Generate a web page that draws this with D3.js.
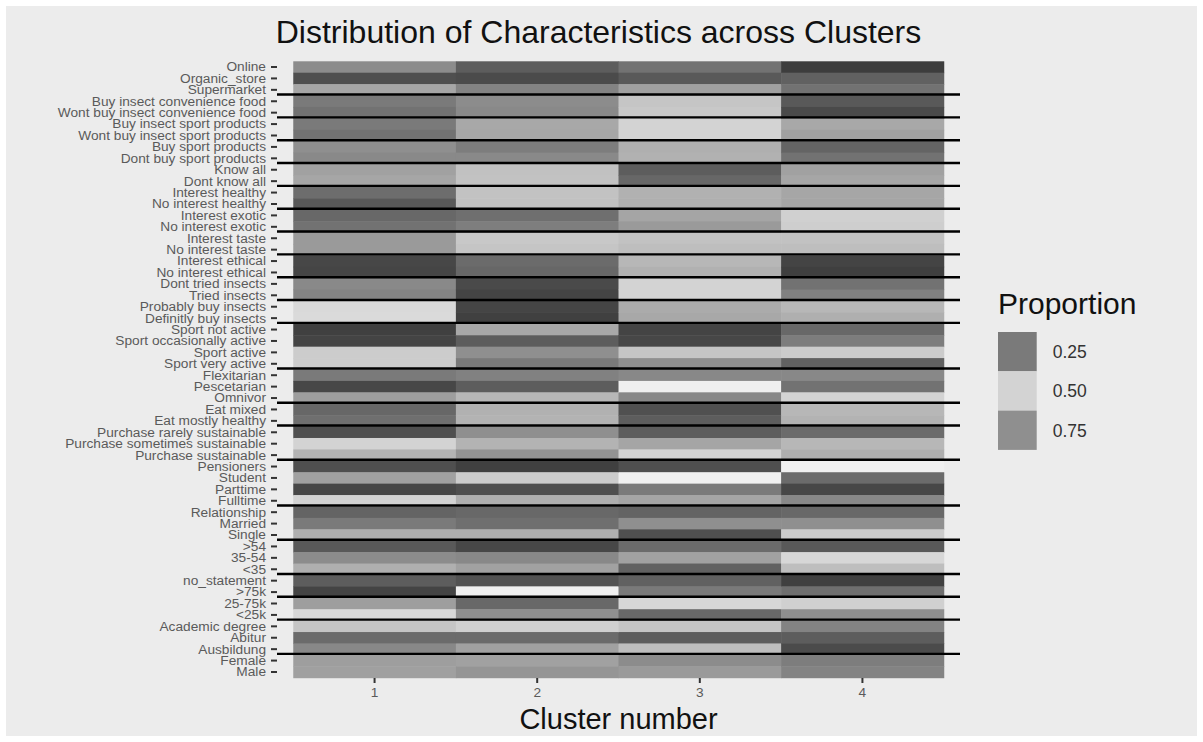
<!DOCTYPE html>
<html>
<head>
<meta charset="utf-8">
<script src="https://cdn.jsdelivr.net/npm/d3@7"></script>
<style>
  html, body { margin: 0; padding: 0; background: #ffffff; }
  svg { display: block; font-family: "Liberation Sans", Arial, sans-serif; }
</style>
</head>
<body>
<svg id="chart" width="1203" height="742"></svg>
<script>
// Characteristics, top to bottom
const characteristics = [
  "Online", "Organic_store", "Supermarket",
  "Buy insect convenience food", "Wont buy insect convenience food",
  "Buy insect sport products", "Wont buy insect sport products",
  "Buy sport products", "Dont buy sport products",
  "Know all", "Dont know all",
  "Interest healthy", "No interest healthy",
  "Interest exotic", "No interest exotic",
  "Interest taste", "No interest taste",
  "Interest ethical", "No interest ethical",
  "Dont tried insects", "Tried insects",
  "Probably buy insects", "Definitly buy insects",
  "Sport not active", "Sport occasionally active", "Sport active", "Sport very active",
  "Flexitarian", "Pescetarian", "Omnivor",
  "Eat mixed", "Eat mostly healthy",
  "Purchase rarely sustainable", "Purchase sometimes sustainable", "Purchase sustainable",
  "Pensioners", "Student", "Parttime", "Fulltime",
  "Relationship", "Married", "Single",
  ">54", "35-54", "<35",
  "no_statement", ">75k", "25-75k", "<25k",
  "Academic degree", "Abitur", "Ausbildung",
  "Female", "Male"
];

const clusters = ["1", "2", "3", "4"];

// Proportion of each characteristic per cluster (same order as characteristics)
const cluster1 = [0.30,0.13,0.71,0.25,0.80,0.25,0.80,0.31,0.76,0.36,0.71,0.81,0.16,0.20,0.80,0.73,0.34,0.11,0.88,0.76,0.28,0.62,0.52,0.09,0.10,0.48,0.48,0.25,0.11,0.35,0.82,0.22,0.13,0.50,0.41,0.13,0.36,0.11,0.50,0.19,0.25,0.40,0.16,0.30,0.40,0.17,0.10,0.35,0.51,0.46,0.21,0.29,0.35,0.72];
const cluster2 = [0.17,0.12,0.77,0.30,0.76,0.38,0.71,0.26,0.76,0.45,0.66,0.66,0.45,0.22,0.78,0.65,0.46,0.21,0.82,0.87,0.10,0.88,0.09,0.38,0.17,0.31,0.25,0.27,0.17,0.42,0.69,0.41,0.31,0.41,0.32,0.09,0.48,0.13,0.40,0.20,0.22,0.40,0.11,0.29,0.36,0.14,0.58,0.20,0.31,0.49,0.21,0.36,0.36,0.74];
const cluster3 = [0.23,0.16,0.72,0.46,0.65,0.50,0.63,0.40,0.69,0.17,0.82,0.69,0.40,0.37,0.73,0.66,0.44,0.42,0.69,0.63,0.50,0.70,0.38,0.10,0.11,0.46,0.31,0.29,0.58,0.29,0.86,0.17,0.17,0.37,0.50,0.13,0.58,0.25,0.37,0.19,0.31,0.13,0.21,0.36,0.18,0.18,0.25,0.51,0.20,0.46,0.17,0.44,0.30,0.73];
const cluster4 = [0.08,0.18,0.80,0.16,0.87,0.38,0.72,0.19,0.80,0.36,0.71,0.71,0.37,0.49,0.64,0.66,0.44,0.10,0.89,0.80,0.27,0.68,0.40,0.20,0.26,0.48,0.18,0.29,0.23,0.50,0.68,0.41,0.21,0.42,0.40,0.58,0.21,0.11,0.29,0.20,0.31,0.48,0.16,0.51,0.44,0.09,0.22,0.49,0.31,0.77,0.17,0.12,0.26,0.77];

// Separator lines are drawn below these characteristics
const separatorsAfter = [
  "Supermarket", "Wont buy insect convenience food", "Wont buy insect sport products",
  "Dont buy sport products", "Dont know all", "No interest healthy", "No interest exotic",
  "No interest taste", "No interest ethical", "Tried insects", "Definitly buy insects",
  "Sport very active", "Omnivor", "Eat mostly healthy", "Purchase sustainable",
  "Fulltime", "Single", "<35", ">75k", "<25k", "Ausbildung"
];

const legendBreaks = [0.25, 0.50, 0.75];

const seriesByCluster = [cluster1, cluster2, cluster3, cluster4];
const cells = [];
clusters.forEach((c, ci) => {
  characteristics.forEach((ch, ri) => {
    cells.push({ cluster: c, characteristic: ch, value: seriesByCluster[ci][ri] });
  });
});

const W = 1203, H = 742;
const svg = d3.select("#chart");

// plot background
svg.append("rect")
  .attr("x", 6).attr("y", 6)
  .attr("width", W - 12).attr("height", H - 12)
  .attr("fill", "#ececec");

const panel = { left: 277, right: 960, top: 61, bottom: 678 };

// discrete x with ggplot-like expansion (0.6 units on each side)
const x = d3.scaleBand()
  .domain(clusters)
  .range([panel.left + (panel.right - panel.left) * 0.1 / 4.2,
          panel.right - (panel.right - panel.left) * 0.1 / 4.2])
  .padding(0);

const y = d3.scaleBand()
  .domain(characteristics)
  .range([61.3, 677.7])
  .padding(0);

const color = d3.scaleLinear()
  .domain([0, 0.58, 1])
  .range(["#202020", "#f0f0f0", "#000000"])
  .clamp(true);

// tiles
svg.append("g")
  .selectAll("rect")
  .data(cells)
  .join("rect")
  .attr("x", d => x(d.cluster))
  .attr("y", d => y(d.characteristic))
  .attr("width", x.bandwidth() + 0.5)
  .attr("height", y.bandwidth() + 0.5)
  .attr("fill", d => color(d.value));

// group separators across the full panel width
svg.append("g")
  .selectAll("line")
  .data(separatorsAfter)
  .join("line")
  .attr("x1", panel.left)
  .attr("x2", panel.right)
  .attr("y1", d => y(d) + y.bandwidth() - 1)
  .attr("y2", d => y(d) + y.bandwidth() - 1)
  .attr("stroke", "#000")
  .attr("stroke-width", 2.4);

// y axis
const yAxis = svg.append("g")
  .attr("transform", `translate(${panel.left},0)`)
  .call(d3.axisLeft(y).tickSize(6).tickPadding(5));
yAxis.select(".domain").remove();
yAxis.selectAll(".tick line").attr("stroke", "#333").attr("stroke-width", 2);
yAxis.selectAll(".tick text")
  .attr("fill", "#5a5a5a")
  .style("font-size", "13.7px")
  .style("font-family", "'Liberation Sans', Arial, sans-serif");

// x axis
const xAxis = svg.append("g")
  .attr("transform", `translate(0,${panel.bottom})`)
  .call(d3.axisBottom(x).tickSize(5).tickPadding(4));
xAxis.select(".domain").remove();
xAxis.selectAll(".tick line").attr("stroke", "#333").attr("stroke-width", 2);
xAxis.selectAll(".tick text")
  .attr("fill", "#5a5a5a")
  .style("font-size", "13.7px")
  .style("font-family", "'Liberation Sans', Arial, sans-serif");

// titles
svg.append("text")
  .attr("x", 598.5).attr("y", 43)
  .attr("text-anchor", "middle")
  .attr("fill", "#111")
  .style("font-size", "32px")
  .text("Distribution of Characteristics across Clusters");

svg.append("text")
  .attr("x", (panel.left + panel.right) / 2).attr("y", 729)
  .attr("text-anchor", "middle")
  .attr("fill", "#111")
  .style("font-size", "29px")
  .text("Cluster number");

// legend
const legend = svg.append("g").attr("transform", "translate(998,0)");
legend.append("text")
  .attr("x", 0).attr("y", 314)
  .attr("fill", "#111")
  .style("font-size", "30px")
  .text("Proportion");

const keyH = 39.3, keyW = 38.7, keyTop = 332;
legend.selectAll("rect.key")
  .data(legendBreaks)
  .join("rect")
  .attr("class", "key")
  .attr("x", 0)
  .attr("y", (d, i) => keyTop + i * keyH)
  .attr("width", keyW)
  .attr("height", keyH)
  .attr("fill", d => color(d));

legend.selectAll("text.lab")
  .data(legendBreaks)
  .join("text")
  .attr("class", "lab")
  .attr("x", keyW + 16)
  .attr("y", (d, i) => keyTop + i * keyH + keyH / 2)
  .attr("dy", "0.36em")
  .attr("fill", "#333")
  .style("font-size", "17.5px")
  .text(d => d3.format(".2f")(d));
</script>
</body>
</html>
